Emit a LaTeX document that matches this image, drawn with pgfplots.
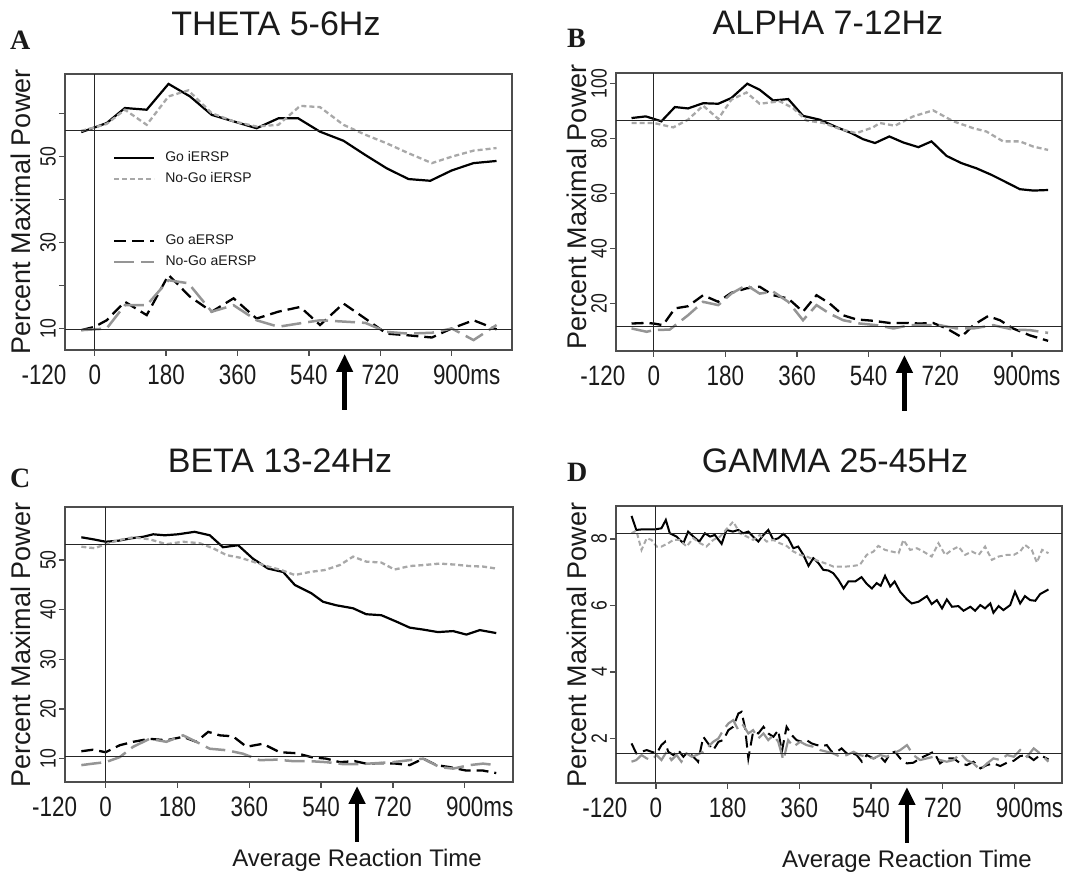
\documentclass[border=0pt]{standalone}
\usepackage{fontspec}
\setmainfont{Liberation Sans}
\newfontfamily\condfont{Liberation Sans}[FakeStretch=0.8]
\newfontfamily\serifbf{Liberation Serif}
\usepackage{pgfplots}
\pgfplotsset{compat=1.18}
\usetikzlibrary{arrows.meta}

\definecolor{axgray}{HTML}{4D4D4D}
\definecolor{lgray}{HTML}{A8A8A8}
\definecolor{mgray}{HTML}{959595}
\definecolor{txt}{HTML}{1A1A1A}

\newcommand\xtl{\condfont\fontsize{28}{28}\selectfont}
\newcommand\ytl{\condfont\fontsize{22}{22}\selectfont}

\pgfplotsset{
  goI/.style={black, line width=2.2pt, solid},
  nogoI/.style={lgray, line width=2.3pt, dash pattern=on 5pt off 3pt},
  goA/.style={black, line width=2.3pt, dash pattern=on 12pt off 6pt},
  nogoA/.style={mgray, line width=2.5pt, dash pattern=on 20pt off 7pt},
  refl/.style={black!85, line width=1.1pt, solid},
  panel/.style={
    scale only axis, anchor=south west, clip=false,
    axis line style={axgray, line width=1.4pt},
    tick style={axgray, line width=1.3pt},
    tick align=outside, major tick length=6pt,
    xtick pos=left, ytick pos=left,
    xtick={0,180,360,540,720,900},
    xticklabels={0,180,360,540,720,900\rlap{ms}},
    xticklabel style={font=\xtl, text=txt, anchor=north, inner sep=0pt},
    xticklabel shift=9pt,
    yticklabel style={font=\ytl, text=txt, rotate=90, anchor=south, inner sep=0pt},
    yticklabel shift=3pt,
    legend image code/.code={\draw[#1] (0pt,0pt) -- (40pt,0pt);},
    legend style={draw=none, fill=none, text=txt, font=\fontsize{14}{14}\selectfont,
      inner sep=0pt, row sep=8pt, column sep=10pt,
      nodes={inner sep=0pt, text height=10pt, text depth=3pt}},
    legend cell align=left,
  },
}
\newcommand\arrowrt[1]{%
  \draw[black, line width=4.5pt, -{Triangle[width=16pt,length=18pt]}]
    ([yshift=-60pt]axis cs:630,#1) -- ([yshift=-4pt]axis cs:630,#1);}
\newcommand\minustwenty[1]{%
  \node[font=\xtl, text=txt, anchor=north, inner sep=0pt] at ([yshift=-15pt]axis cs:-128,#1) {-120};}

\begin{document}
\begin{tikzpicture}[x=1pt,y=1pt]
\useasboundingbox (0,0) rectangle (1079,875);

% ---------------- Panel A ----------------
\begin{axis}[panel, at={(65pt,525pt)}, width=447pt, height=276pt,
  xmin=-75, xmax=1052, ymin=5, ymax=69.1,
  ytick={10,20,30,40,50,60}, yticklabels={10,,30,,50,},
  legend style={at={(axis description cs:0.107,0.72)}, anchor=north west}]
\addplot[goI] coordinates {(-34,55.6) (0,56.7) (30,57.7) (76,61.2) (131,60.8) (186,66.8) (240,63.9) (295,59.6) (350,58.1) (408,56.5) (463,58.8) (513,58.8) (568,55.7) (627,53.6) (682,50.3) (736,47.2) (791,44.7) (846,44.3) (900,46.7) (955,48.4) (1013,48.9)};
\addplot[nogoI] coordinates {(-34,55.9) (0,56.7) (30,57.5) (76,60.8) (131,57.3) (186,63.9) (236,65.3) (295,60.0) (350,58.1) (408,56.9) (463,57.3) (518,61.7) (568,61.4) (627,57.3) (682,55.0) (736,53.0) (791,50.7) (850,48.4) (900,49.9) (955,51.3) (1013,51.9)};
\addplot[goA] coordinates {(-34,9.6) (0,10.4) (30,11.9) (76,16.2) (131,13.1) (186,22.4) (240,17.4) (295,13.9) (350,17.0) (408,12.3) (463,13.9) (518,15.0) (568,10.8) (627,15.8) (682,12.3) (736,8.8) (791,8.4) (850,7.9) (900,10.0) (955,11.9) (1013,9.8)};
\addplot[nogoA] coordinates {(-34,9.6) (0,9.8) (30,10.0) (76,15.4) (131,15.4) (186,21.2) (236,20.5) (295,13.9) (350,15.4) (408,11.9) (463,10.4) (518,11.2) (568,11.9) (627,11.6) (682,11.3) (736,9.2) (791,8.8) (850,9.0) (900,10.0) (955,7.3) (1013,10.8)};
\addplot[refl] coordinates {(-75,55.9) (1052,55.9)};
\addplot[refl] coordinates {(-75,9.8) (1052,9.8)};
\addplot[refl] coordinates {(0,5) (0,69.1)};
\legend{Go iERSP, No-Go iERSP}
\arrowrt{5}
\minustwenty{5}
\end{axis}
\begin{axis}[panel, at={(65pt,525pt)}, width=447pt, height=276pt, hide axis,
  xmin=-75, xmax=1052, ymin=5, ymax=69.1,
  ytick={10,20,30,40,50,60}, yticklabels={},
  legend style={at={(axis description cs:0.107,0.42)}, anchor=north west}]
\addplot[draw=none, forget plot] coordinates {(0,10) (100,20)};
\addlegendimage{goA}\addlegendentry{Go aERSP}
\addlegendimage{nogoA}\addlegendentry{No-Go aERSP}
\end{axis}

% ---------------- Panel B ----------------
\begin{axis}[panel, at={(616pt,524pt)}, width=446pt, height=278pt,
  xmin=-95, xmax=1026, ymin=2.7, ymax=103.9,
  ytick={20,40,60,80,100}, yticklabels={20,40,60,80,100}]
\addplot[goI] coordinates {(-56,87.5) (-20,88.1) (0,87.2) (19,86.3) (53,91.5) (86,91.0) (124,92.9) (162,92.7) (195,94.8) (235,100) (266,97.8) (300,93.9) (338,94.4) (375,88.3) (417,86.9) (459,84.2) (497,82.0) (526,79.8) (556,78.4) (592,80.8) (627,78.6) (665,76.9) (698,79.0) (736,73.7) (773,71.1) (811,69.2) (849,66.8) (882,64.4) (920,61.6) (954,61.1) (991,61.3)};
\addplot[nogoI] coordinates {(-56,85.7) (0,85.7) (49,84.1) (86,86.9) (124,92.0) (162,87.2) (195,94.2) (233,96.8) (266,92.7) (317,93.6) (350,91.1) (384,86.6) (426,85.7) (468,83.5) (509,82.0) (551,84.1) (568,85.7) (606,84.7) (652,88.1) (702,90.3) (753,86.3) (803,83.8) (836,82.6) (878,79.0) (920,79.0) (954,77.1) (991,75.9)};
\addplot[goA] coordinates {(-56,12.7) (-20,12.9) (0,12.7) (23,12.1) (53,18.2) (86,19.0) (124,23.0) (162,20.6) (195,23.9) (233,25.5) (266,26.1) (300,23.0) (338,21.8) (375,17.0) (409,23.0) (442,20.0) (476,15.7) (509,14.2) (551,13.7) (593,12.9) (635,12.9) (669,12.7) (702,12.9) (736,10.9) (773,7.8) (803,12.1) (840,15.4) (870,13.9) (903,10.9) (945,8.4) (991,6.4)};
\addplot[nogoA] coordinates {(-56,10.9) (-18,9.7) (0,10.3) (40,10.5) (86,15.7) (124,20.6) (162,19.4) (195,23.6) (233,26.7) (266,23.6) (300,24.3) (338,20.6) (375,13.9) (409,19.4) (442,16.3) (476,13.9) (518,12.7) (560,12.1) (602,10.9) (644,12.1) (685,12.1) (719,12.1) (761,10.9) (803,10.9) (853,12.1) (903,10.5) (945,10.3) (991,9.3)};
\addplot[refl] coordinates {(-95,86.6) (1026,86.6)};
\addplot[refl] coordinates {(-95,11.5) (1026,11.5)};
\addplot[refl] coordinates {(0,2.7) (0,103.9)};
\arrowrt{2.7}
\minustwenty{2.7}
\end{axis}

% ---------------- Panel C ----------------
\begin{axis}[panel, at={(65pt,93pt)}, width=448pt, height=275pt,
  xmin=-102, xmax=1021, ymin=5.3, ymax=60.7,
  ytick={10,20,30,40,50}, yticklabels={10,20,30,40,50}]
\addplot[goI] coordinates {(-61,54.6) (-32,54.2) (0,53.7) (31,53.9) (64,54.4) (94,54.7) (119,55.2) (148,55.0) (181,55.2) (223,55.7) (261,55.0) (294,52.6) (332,53.0) (369,50.3) (407,48.3) (445,47.6) (474,45.0) (516,43.3) (545,41.6) (578,40.9) (620,40.3) (653,39.1) (691,38.9) (729,37.6) (762,36.4) (796,36.0) (833,35.5) (871,35.7) (904,35.0) (938,35.9) (979,35.3)};
\addplot[nogoI] coordinates {(-61,52.7) (-28,52.4) (0,53.2) (31,54.0) (69,54.6) (110,54.2) (152,53.2) (194,53.7) (236,53.4) (269,52.4) (303,51.0) (336,50.5) (369,49.7) (403,48.8) (440,48.0) (474,47.0) (511,47.6) (549,48.0) (587,49.0) (620,50.7) (653,49.7) (691,49.5) (724,48.1) (762,48.8) (796,49.0) (837,49.3) (875,49.1) (912,48.8) (946,48.7) (979,48.3)};
\addplot[goA] coordinates {(-61,11.5) (-32,11.8) (0,11.3) (35,12.7) (69,13.4) (110,14.0) (152,13.7) (194,14.4) (227,13.4) (257,15.4) (286,14.7) (319,14.5) (353,12.4) (394,13.0) (436,11.3) (478,11.1) (516,10.3) (553,10.0) (587,9.3) (624,9.5) (653,9.0) (691,9.1) (729,9.0) (762,8.7) (796,10.0) (829,8.7) (862,8.3) (904,7.6) (946,7.6) (979,7.1)};
\addplot[nogoA] coordinates {(-61,8.7) (-32,9.0) (0,9.3) (35,10.3) (69,12.4) (110,14.0) (152,13.4) (194,14.7) (227,13.4) (261,12.0) (303,11.7) (344,11.0) (386,9.7) (428,9.8) (470,9.5) (511,9.5) (553,9.3) (595,8.9) (637,8.9) (679,9.1) (720,9.3) (762,9.7) (796,10.0) (837,8.3) (871,8.0) (912,8.7) (946,9.0) (979,8.7)};
\addplot[refl] coordinates {(-102,53.2) (1021,53.2)};
\addplot[refl] coordinates {(-102,10.5) (1021,10.5)};
\addplot[refl] coordinates {(0,5.3) (0,60.7)};
\arrowrt{5.3}
\minustwenty{5.3}
\node[anchor=base, font=\fontsize{24}{24}\selectfont, text=txt] at ([yshift=-85pt]axis cs:630,5.3) {Average Reaction Time};
\end{axis}

% ---------------- Panel D ----------------
\begin{axis}[panel, at={(616pt,92pt)}, width=446pt, height=277pt,
  xmin=-100, xmax=1019, ymin=0.66, ymax=8.99,
  ytick={2,4,6,8}, yticklabels={2,4,6,8}]
\addplot[goI, line width=2pt] coordinates {(-61,8.69) (-49,8.27) (-32,8.29) (-15,8.29) (0,8.29) (14,8.32) (25,8.57) (35,8.17) (52,8.07) (69,7.87) (81,8.22) (94,8.07) (109,7.92) (123,8.17) (136,8.07) (148,8.12) (165,7.85) (177,8.27) (193,8.22) (207,8.27) (219,8.17) (232,8.22) (244,8.07) (257,7.92) (270,8.12) (282,8.27) (295,7.97) (307,8.02) (320,8.15) (332,8.02) (345,7.72) (357,7.77) (370,7.52) (383,7.19) (395,7.42) (408,7.27) (420,7.07) (433,7.05) (445,6.97) (458,6.77) (471,6.51) (483,6.72) (500,6.72) (516,6.85) (529,6.65) (542,6.51) (554,6.67) (564,6.59) (575,6.89) (588,6.57) (599,6.72) (613,6.41) (630,6.18) (642,6.06) (659,6.11) (680,6.28) (692,6.04) (705,6.16) (718,5.91) (730,6.18) (743,5.96) (759,5.98) (772,5.84) (789,5.96) (801,5.84) (814,6.01) (826,5.91) (839,6.06) (847,5.78) (860,5.98) (872,5.86) (889,6.01) (901,6.41) (914,6.06) (926,6.28) (939,6.16) (952,6.14) (964,6.34) (985,6.48)};
\addplot[nogoI, line width=2pt] coordinates {(-61,8.17) (-49,8.25) (-36,7.67) (-23,8.02) (-11,7.97) (2,7.77) (14,7.77) (31,7.87) (44,7.97) (60,7.97) (77,7.77) (94,8.02) (111,7.87) (127,7.77) (144,7.97) (161,8.07) (177,8.29) (194,8.52) (211,8.17) (228,8.07) (244,7.97) (261,8.12) (278,7.92) (295,7.97) (311,7.87) (328,7.79) (345,7.62) (362,7.52) (378,7.47) (395,7.39) (412,7.32) (429,7.25) (445,7.17) (462,7.17) (479,7.17) (496,7.19) (512,7.22) (529,7.52) (546,7.62) (558,7.79) (575,7.67) (592,7.62) (609,7.57) (621,7.97) (638,7.67) (655,7.72) (671,7.62) (692,7.47) (709,7.87) (726,7.52) (743,7.67) (759,7.77) (776,7.52) (793,7.62) (810,7.52) (826,7.77) (843,7.37) (860,7.47) (881,7.52) (898,7.52) (914,7.62) (926,7.82) (943,7.67) (956,7.29) (969,7.67) (985,7.57)};
\addplot[goA, line width=2pt] coordinates {(-61,1.85) (-49,1.55) (-36,1.60) (-23,1.65) (-11,1.60) (2,1.55) (14,1.80) (23,1.90) (31,1.60) (44,1.50) (56,1.65) (69,1.45) (81,1.60) (94,1.45) (106,1.30) (119,2.05) (131,1.85) (144,1.65) (157,1.90) (169,1.95) (182,2.25) (194,2.35) (207,2.75) (215,2.80) (224,2.30) (232,1.40) (244,2.20) (257,2.15) (270,2.35) (282,2.15) (295,2.05) (307,2.25) (316,1.60) (328,2.35) (341,2.10) (353,1.95) (366,1.90) (378,1.95) (391,1.85) (404,1.80) (416,1.77) (429,1.80) (441,1.60) (454,1.60) (466,1.70) (479,1.55) (491,1.57) (504,1.50) (517,1.30) (529,1.50) (546,1.40) (563,1.45) (575,1.30) (588,1.55) (600,1.60) (613,1.40) (630,1.25) (646,1.27) (663,1.40) (680,1.50) (697,1.60) (713,1.25) (730,1.40) (747,1.40) (764,1.25) (780,1.20) (797,1.30) (814,1.10) (831,1.20) (847,1.25) (864,1.17) (881,1.27) (898,1.33) (914,1.47) (931,1.50) (948,1.35) (964,1.50) (985,1.37)};
\addplot[nogoA, line width=2.2pt] coordinates {(-61,1.30) (-49,1.35) (-36,1.50) (-23,1.40) (-11,1.35) (2,1.50) (14,1.35) (27,1.60) (39,1.35) (52,1.50) (64,1.30) (77,1.55) (90,1.45) (102,1.50) (119,1.60) (131,1.75) (144,1.90) (157,2.00) (169,2.25) (182,2.45) (194,2.55) (207,2.25) (219,2.40) (232,2.15) (244,2.25) (257,2.00) (270,2.15) (282,1.95) (295,2.10) (307,1.90) (320,1.35) (332,1.95) (345,1.75) (362,1.90) (378,1.80) (395,1.75) (412,1.65) (429,1.60) (445,1.55) (462,1.45) (479,1.50) (496,1.60) (512,1.50) (529,1.45) (546,1.40) (563,1.50) (579,1.45) (596,1.55) (613,1.65) (630,1.80) (646,1.50) (663,1.35) (680,1.40) (697,1.45) (713,1.35) (730,1.30) (747,1.35) (764,1.55) (780,1.35) (797,1.25) (814,1.05) (831,1.25) (847,1.40) (864,1.35) (881,1.50) (898,1.45) (914,1.65) (931,1.45) (948,1.70) (964,1.55) (985,1.30)};
\addplot[refl] coordinates {(-100,8.16) (1019,8.16)};
\addplot[refl] coordinates {(-100,1.54) (1019,1.54)};
\addplot[refl] coordinates {(0,0.66) (0,8.99)};
\arrowrt{0.66}
\minustwenty{0.66}
\node[anchor=base, font=\fontsize{24}{24}\selectfont, text=txt] at ([yshift=-85pt]axis cs:630,0.66) {Average Reaction Time};
\end{axis}

% ---------------- titles, letters, y labels ----------------
\node[anchor=base, font=\fontsize{34}{34}\selectfont, text=txt] at (276,839) {THETA 5-6Hz};
\node[anchor=base, font=\fontsize{34}{34}\selectfont, text=txt] at (828,840) {ALPHA 7-12Hz};
\node[anchor=base, font=\fontsize{34}{34}\selectfont, text=txt] at (280,402) {BETA 13-24Hz};
\node[anchor=base, font=\fontsize{34}{34}\selectfont, text=txt] at (835,402) {GAMMA 25-45Hz};
\node[anchor=base west, inner sep=0pt, font=\serifbf\bfseries\fontsize{28}{28}\selectfont, text=txt] at (10,825) {A};
\node[anchor=base west, inner sep=0pt, font=\serifbf\bfseries\fontsize{28}{28}\selectfont, text=txt] at (567,827) {B};
\node[anchor=base west, inner sep=0pt, font=\serifbf\bfseries\fontsize{28}{28}\selectfont, text=txt] at (10,387) {C};
\node[anchor=base west, inner sep=0pt, font=\serifbf\bfseries\fontsize{28}{28}\selectfont, text=txt] at (567,393) {D};
\node[rotate=90, font=\fontsize{27}{27}\selectfont, text=txt] at (21,663) {Percent Maximal Power};
\node[rotate=90, font=\fontsize{27}{27}\selectfont, text=txt] at (577,668) {Percent Maximal Power};
\node[rotate=90, font=\fontsize{27}{27}\selectfont, text=txt] at (21,230) {Percent Maximal Power};
\node[rotate=90, font=\fontsize{27}{27}\selectfont, text=txt] at (577,230) {Percent Maximal Power};
\end{tikzpicture}
\end{document}
